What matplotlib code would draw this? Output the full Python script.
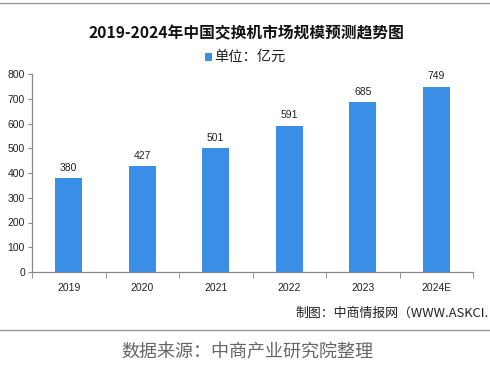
import matplotlib
matplotlib.use("Agg")
import matplotlib.pyplot as plt
from matplotlib.lines import Line2D
from matplotlib.patches import Rectangle
import numpy as np

plt.rcParams['font.family'] = ['Noto Sans CJK SC', 'DejaVu Sans']

categories = ["2019", "2020", "2021", "2022", "2023", "2024E"]
values = [380, 427, 501, 591, 685, 749]
yticks = [0, 100, 200, 300, 400, 500, 600, 700, 800]
title = "2019-2024年中国交换机市场规模预测趋势图"
legend_label = "单位：亿元"
credit = "制图：中商情报网（WWW.ASKCI."
source = "数据来源：中商产业研究院整理"

bar_color = "#3a8ee6"
W, H = 490, 368
fig = plt.figure(figsize=(W/100, H/100), dpi=100)
fig.patch.set_facecolor("white")

ax = fig.add_axes([32/W, 1-272/H, (473-32)/W, (272-74)/H])
x = np.arange(len(categories))
ax.bar(x, values, width=0.37, color=bar_color, zorder=2)
for xi, v in zip(x, values):
    ax.text(xi, v + 22, str(v), ha='center', va='bottom', fontsize=7.5,
            family=['Liberation Sans'], color='#222222')
ax.set_xlim(-0.5, len(categories) - 0.5)
ax.set_ylim(0, 800)
ax.set_yticks(yticks)
ax.set_yticklabels([str(t) for t in yticks], family=['Liberation Sans'], fontsize=7.5, color='#222222')
ax.set_xticks(x)
ax.set_xticklabels(categories, family=['Liberation Sans'], fontsize=7.5, color='#222222')
ax.set_xticks(np.arange(len(categories) + 1) - 0.5, minor=True)
ax.tick_params(axis='x', which='major', length=0, pad=8)
ax.tick_params(axis='x', which='minor', length=4, color='#888888')
ax.tick_params(axis='y', length=3, color='#888888', pad=2)
for s in ['top', 'right']:
    ax.spines[s].set_visible(False)
for s in ['left', 'bottom']:
    ax.spines[s].set_color('#888888')
    ax.spines[s].set_linewidth(0.9)

fig.text(246/W, 1-33/H, title, ha='center', va='center', fontsize=11.3, fontweight='bold', color='#111111')
fig.patches.append(Rectangle((205/W, 1-61/H), 7/W, 8/H, transform=fig.transFigure,
                             facecolor=bar_color, edgecolor='none'))
fig.text(214/W, 1-57/H, legend_label, ha='left', va='center', fontsize=10.3, color='#222222')

fig.text(489/W, 1-313/H, credit, ha='right', va='center', fontsize=9.3, color='#222222')
fig.text(247/W, 1-352/H, source, ha='center', va='center', fontsize=13, color='#666666')

fig.add_artist(Line2D([0, 1], [1-3/H, 1-3/H], transform=fig.transFigure, color='#999999', lw=1))
fig.add_artist(Line2D([0, 1], [1-330/H, 1-330/H], transform=fig.transFigure, color='#999999', lw=1))

fig.savefig("out.png", dpi=100)
